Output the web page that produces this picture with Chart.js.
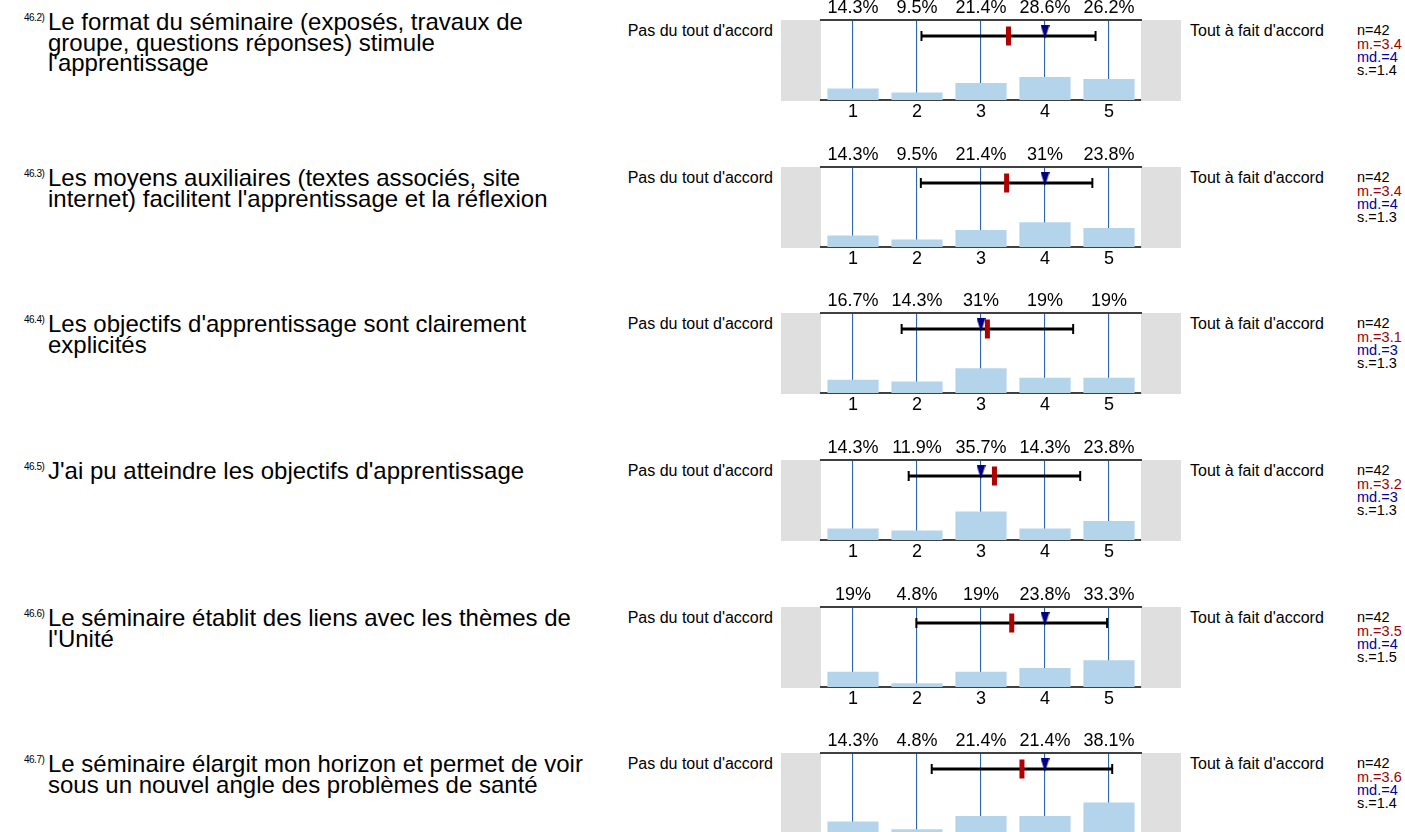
<!DOCTYPE html>
<html lang="fr">
<head>
<meta charset="utf-8">
<title>Évaluation du séminaire – 46</title>
<script src="https://cdn.jsdelivr.net/npm/chart.js@4.4.1/dist/chart.umd.min.js"></script>
<style>
  html, body { margin: 0; padding: 0; background: #fff; }
  body {
    width: 1405px; height: 832px; overflow: hidden; position: relative;
    font-family: 'Liberation Sans', Arial, Helvetica, sans-serif; color: #000;
  }
  .qid { position: absolute; left: 24px; font-size: 10px; line-height: 11px; letter-spacing: -0.5px; }
  .qtext { position: absolute; left: 48px; font-size: 24px; line-height: 20.5px; white-space: nowrap; }
  .anchor { position: absolute; font-size: 16px; line-height: 18px; white-space: nowrap; }
  .anchor.left { right: 632px; text-align: right; }
  .anchor.right { left: 1190px; }
  .stats { position: absolute; left: 1357px; font-size: 14.5px; line-height: 13.3px; white-space: nowrap; }
  .stats .m { color: #a00000; }
  .stats .md { color: #0000a0; }
  canvas.row { position: absolute; left: 781px; }
</style>
</head>
<body>
<script>
// Response scale and question wording
const SCALE_POINTS = [1, 2, 3, 4, 5];
const QUESTION_IDS = ['46.2)', '46.3)', '46.4)', '46.5)', '46.6)', '46.7)'];
const QUESTION_LINES = [
  ["Le format du séminaire (exposés, travaux de", "groupe, questions réponses) stimule", "l'apprentissage"],
  ["Les moyens auxiliaires (textes associés, site", "internet) facilitent l'apprentissage et la réflexion"],
  ["Les objectifs d'apprentissage sont clairement", "explicités"],
  ["J'ai pu atteindre les objectifs d'apprentissage"],
  ["Le séminaire établit des liens avec les thèmes de", "l'Unité"],
  ["Le séminaire élargit mon horizon et permet de voir", "sous un nouvel angle des problèmes de santé"]
];
const LEFT_ANCHOR = "Pas du tout d'accord";
const RIGHT_ANCHOR = "Tout à fait d'accord";

// Share of answers (%) per scale point, one array per question
const PCT_46_2 = [14.3, 9.5, 21.4, 28.6, 26.2];
const PCT_46_3 = [14.3, 9.5, 21.4, 31, 23.8];
const PCT_46_4 = [16.7, 14.3, 31, 19, 19];
const PCT_46_5 = [14.3, 11.9, 35.7, 14.3, 23.8];
const PCT_46_6 = [19, 4.8, 19, 23.8, 33.3];
const PCT_46_7 = [14.3, 4.8, 21.4, 21.4, 38.1];
const PERCENTAGES = [PCT_46_2, PCT_46_3, PCT_46_4, PCT_46_5, PCT_46_6, PCT_46_7];

// Summary statistics per question
const RESPONSES = [42, 42, 42, 42, 42, 42];
const MEANS = [3.43, 3.40, 3.10, 3.21, 3.48, 3.64];
const MEDIANS = [4, 4, 3, 3, 4, 4];
const STD_DEVS = [1.36, 1.34, 1.34, 1.34, 1.49, 1.41];

Chart.defaults.font.family = "'Liberation Sans', Arial, Helvetica, sans-serif";
Chart.defaults.color = '#000';

// Downward pointing marker for the median
const medianMarker = (() => {
  const c = document.createElement('canvas');
  c.width = 9; c.height = 14;
  const g = c.getContext('2d');
  g.fillStyle = '#000080';
  g.beginPath(); g.moveTo(0, 0); g.lineTo(9, 0); g.lineTo(4.5, 14); g.closePath(); g.fill();
  return c;
})();

// Grey end caps on both sides of the plot area
const sideBands = {
  id: 'sideBands',
  beforeDraw(chart) {
    const { ctx, chartArea: { left, right, top, bottom } } = chart;
    ctx.save();
    ctx.fillStyle = '#dfdfdf';
    ctx.fillRect(left - 40, top, 40, bottom - top + 1);
    ctx.fillRect(right, top, 40, bottom - top + 1);
    ctx.restore();
  }
};

const ROW_TOPS = [20, 167, 313, 460, 607, 753];

function addDiv(cls, top, html) {
  const d = document.createElement('div');
  d.className = cls;
  d.style.top = top + 'px';
  d.innerHTML = html;
  document.body.appendChild(d);
  return d;
}

function esc(s) { return s.replace(/&/g, '&amp;').replace(/</g, '&lt;'); }

PERCENTAGES.forEach((pct, i) => {
  const T = ROW_TOPS[i];
  const nLines = QUESTION_LINES[i].length;
  const titleTop = nLines > 2 ? T - 8 : T + 1;

  addDiv('qid', titleTop, QUESTION_IDS[i]);
  addDiv('qtext', titleTop, QUESTION_LINES[i].map(esc).join('<br>'));
  addDiv('anchor left', T + 1.5, esc(LEFT_ANCHOR));
  addDiv('anchor right', T + 1.5, esc(RIGHT_ANCHOR));
  addDiv('stats', T + 4.3,
    'n=' + RESPONSES[i] + '<br>' +
    '<span class="m">m.=' + MEANS[i].toFixed(1) + '</span><br>' +
    '<span class="md">md.=' + MEDIANS[i] + '</span><br>' +
    's.=' + STD_DEVS[i].toFixed(1));

  const canvas = document.createElement('canvas');
  canvas.className = 'row';
  canvas.width = 400; canvas.height = 120;
  canvas.style.top = (T - 20) + 'px';
  canvas.style.width = '400px'; canvas.style.height = '120px';
  document.body.appendChild(canvas);

  const pinTicks = s => { s.ticks = SCALE_POINTS.map(v => ({ value: v })); };

  new Chart(canvas, {
    type: 'bar',
    data: {
      datasets: [
        {
          type: 'line', label: 'md.', order: 1,
          data: [{ x: MEDIANS[i], y: 85 }],
          showLine: false, pointStyle: medianMarker, pointRadius: 5
        },
        {
          type: 'line', label: 'm.', order: 2,
          data: [{ x: MEANS[i], y: 80 }],
          showLine: false, pointStyle: 'line', pointRotation: 90, pointRadius: 9.5,
          pointBorderWidth: 5, pointBorderColor: '#b00000', pointBackgroundColor: '#b00000'
        },
        {
          type: 'line', label: 's.', order: 3,
          data: [{ x: MEANS[i] - STD_DEVS[i], y: 80 }, { x: MEANS[i] + STD_DEVS[i], y: 80 }],
          borderColor: '#000', borderWidth: 3,
          pointStyle: 'line', pointRotation: 90, pointRadius: 5,
          pointBorderWidth: 2, pointBorderColor: '#000', pointBackgroundColor: '#000'
        },
        {
          type: 'bar', label: '%', order: 4,
          data: SCALE_POINTS.map((v, k) => ({ x: v, y: pct[k] })),
          backgroundColor: '#b4d4ec', borderWidth: 0,
          barPercentage: 1, categoryPercentage: 0.8
        }
      ]
    },
    options: {
      responsive: false,
      animation: false,
      events: [],
      layout: { padding: { left: 40, right: 40, top: 0, bottom: 0 } },
      plugins: { legend: { display: false }, tooltip: { enabled: false } },
      scales: {
        x: {
          type: 'linear', position: 'bottom', min: 0.5, max: 5.5, z: 1, offset: false,
          afterBuildTicks: pinTicks,
          afterFit: s => { s.height = 20; },
          grid: { color: '#2c64a8', lineWidth: 1.1, drawTicks: false, offset: false },
          border: { color: '#404040', width: 2 },
          ticks: { font: { size: 18 }, padding: 1, autoSkip: false, maxRotation: 0,
                   callback: v => String(v) }
        },
        top: {
          type: 'linear', position: 'top', min: 0.5, max: 5.5, offset: false,
          afterBuildTicks: pinTicks,
          afterFit: s => { s.height = 20; },
          grid: { display: false, drawTicks: false, offset: false },
          border: { color: '#404040', width: 2 },
          ticks: { font: { size: 18 }, padding: 1, autoSkip: false, maxRotation: 0,
                   callback: v => pct[v - 1] + '%' }
        },
        y: { display: false, min: 0, max: 100 }
      }
    },
    plugins: [sideBands]
  });
});
</script>
</body>
</html>
